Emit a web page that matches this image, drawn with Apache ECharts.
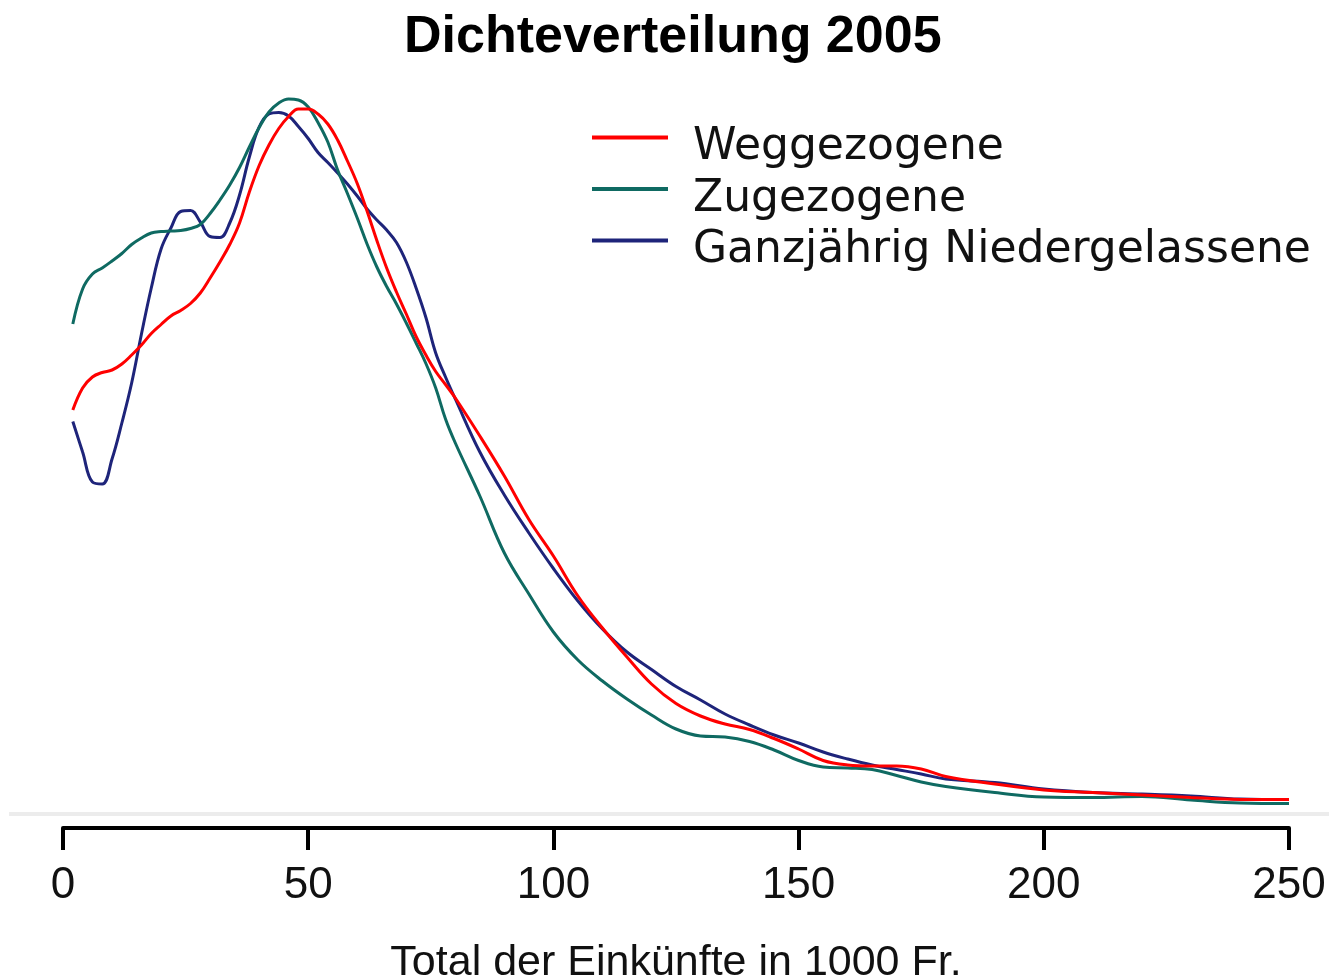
<!DOCTYPE html>
<html>
<head>
<meta charset="utf-8">
<script src="https://cdn.jsdelivr.net/npm/echarts@6/dist/echarts.min.js"></script>
<style>
  html, body { margin: 0; padding: 0; background: #fff; }
  #chart1 { width: 1329px; height: 979px; }
</style>
</head>
<body>
<div id="chart1"></div>
<script>
function $(_) {return document.getElementById(_);}

// Einkommen in 1000 Fr.
const einkommen = [2, 4, 6, 8, 10, 12, 14, 16, 18, 20, 22, 24, 26, 28, 30, 32, 34, 36, 38, 40,
  42, 44, 46, 48, 50, 52, 54, 56, 58, 60, 62, 64, 66, 68, 70, 72, 74, 76, 78, 80,
  85, 90, 95, 100, 105, 110, 115, 120, 125, 130, 135, 140, 145, 150, 155, 160, 165, 170, 175, 180,
  190, 200, 210, 220, 230, 240, 250];

// Dichte (x 1000)
const weggezogene = [8.08, 8.52, 8.74, 8.83, 8.88, 9.00, 9.18, 9.38, 9.61, 9.79, 9.96, 10.07, 10.21, 10.42, 10.72, 11.04, 11.39, 11.82, 12.44, 12.97,
  13.38, 13.71, 13.95, 14.10, 14.10, 14.00, 13.80, 13.48, 13.06, 12.61, 12.06, 11.47, 10.92, 10.44, 10.00, 9.55, 9.18, 8.85, 8.59, 8.32,
  7.56, 6.76, 5.89, 5.16, 4.36, 3.72, 3.14, 2.60, 2.21, 1.96, 1.80, 1.69, 1.51, 1.30, 1.07, 0.98, 0.96, 0.96, 0.90, 0.75,
  0.60, 0.48, 0.43, 0.38, 0.33, 0.29, 0.29];

const zugezogene = [9.80, 10.50, 10.80, 10.92, 11.06, 11.21, 11.39, 11.52, 11.62, 11.65, 11.66, 11.67, 11.71, 11.79, 12.01, 12.28, 12.58, 12.93, 13.34, 13.73,
  14.04, 14.22, 14.30, 14.28, 14.14, 13.83, 13.44, 12.88, 12.41, 11.92, 11.40, 10.94, 10.55, 10.20, 9.82, 9.42, 9.01, 8.52, 7.90, 7.42,
  6.36, 5.22, 4.40, 3.64, 3.08, 2.66, 2.30, 1.98, 1.70, 1.56, 1.54, 1.45, 1.28, 1.07, 0.94, 0.92, 0.89, 0.77, 0.64, 0.55,
  0.43, 0.34, 0.33, 0.35, 0.28, 0.22, 0.21];

const ganzjaehrig = [7.85, 7.24, 6.64, 6.60, 7.10, 7.82, 8.62, 9.60, 10.52, 11.30, 11.72, 12.05, 12.07, 11.84, 11.55, 11.53, 11.82, 12.38, 13.14, 13.74,
  14.00, 14.03, 13.96, 13.75, 13.51, 13.23, 13.03, 12.82, 12.60, 12.36, 12.10, 11.88, 11.68, 11.43, 11.04, 10.52, 9.93, 9.22, 8.74, 8.30,
  7.24, 6.38, 5.62, 4.91, 4.26, 3.70, 3.24, 2.89, 2.55, 2.28, 2.00, 1.78, 1.58, 1.42, 1.24, 1.10, 0.98, 0.89, 0.80, 0.70,
  0.63, 0.50, 0.43, 0.40, 0.36, 0.30, 0.29];

const xTicks = [0, 50, 100, 150, 200, 250];
const gruppen = ['Weggezogene', 'Zugezogene', 'Ganzjährig Niedergelassene'];
const farben = ['#ff0000', '#0f6a62', '#1e247a'];

function paare(ys) {
  return einkommen.map((x, i) => [x, ys[i]]);
}

document.addEventListener('DOMContentLoaded', function() {
  dichte();
});

function dichte() {
  const echart1 = echarts.init($('chart1'));

  const linie = (name, ys, farbe, z) => ({
    name: name,
    type: 'line',
    smooth: 0.4,
    showSymbol: false,
    symbol: 'none',
    z: z,
    lineStyle: { width: 3, color: farbe },
    itemStyle: { color: farbe },
    data: paare(ys)
  });

  const option = {
    animation: false,
    backgroundColor: '#fff',
    title: {
      text: 'Dichteverteilung 2005',
      left: 399,
      top: 7,
      textStyle: { fontFamily: 'Liberation Sans', fontWeight: 'bold', fontSize: 52, color: '#000' }
    },
    legend: {
      data: gruppen,
      orient: 'vertical',
      left: 592,
      top: 105,
      padding: 0,
      icon: 'rect',
      itemWidth: 76,
      itemHeight: 4,
      itemGap: -13.5,
      formatter: '{t|{name}}',
      textStyle: {
        rich: {
          t: {
            fontFamily: 'DejaVu Sans',
            fontSize: 44,
            lineHeight: 48,
            color: '#111',
            padding: [21, 0, 0, 20]
          }
        }
      }
    },
    grid: { left: 63, right: 40, top: 14, bottom: 165, containLabel: false, outerBoundsMode: 'none' },
    xAxis: {
      type: 'value',
      min: 0,
      max: 250,
      interval: 50,
      offset: 14,
      axisLine: { show: true, onZero: false, lineStyle: { color: '#000', width: 4 } },
      axisTick: { show: true, length: 22, lineStyle: { color: '#000', width: 4 } },
      axisLabel: {
        margin: 36,
        fontFamily: 'Liberation Sans',
        fontSize: 44,
        color: '#111',
        customValues: xTicks
      },
      splitLine: { show: false },
      name: 'Total der Einkünfte in 1000 Fr.',
      nameLocation: 'middle',
      nameGap: 114,
      nameTextStyle: { fontFamily: 'Liberation Sans', fontSize: 43, color: '#111' }
    },
    yAxis: {
      type: 'value',
      min: 0,
      max: 16,
      show: false
    },
    series: [
      linie(gruppen[2], ganzjaehrig, farben[2], 2),
      linie(gruppen[1], zugezogene, farben[1], 3),
      linie(gruppen[0], weggezogene, farben[0], 4)
    ]
  };

  echart1.setOption(option);

  // hellgraue Nulllinie ueber die ganze Plotflaeche
  const y0 = echart1.convertToPixel({ yAxisIndex: 0 }, 0);
  const xa = echart1.convertToPixel({ xAxisIndex: 0 }, -11);
  const xb = echart1.convertToPixel({ xAxisIndex: 0 }, 258.2);
  echart1.setOption({
    graphic: [{
      type: 'line',
      z: 0,
      shape: { x1: xa, y1: y0, x2: xb, y2: y0 },
      style: { stroke: '#ececec', lineWidth: 4 }
    }]
  });
}
</script>
</body>
</html>
